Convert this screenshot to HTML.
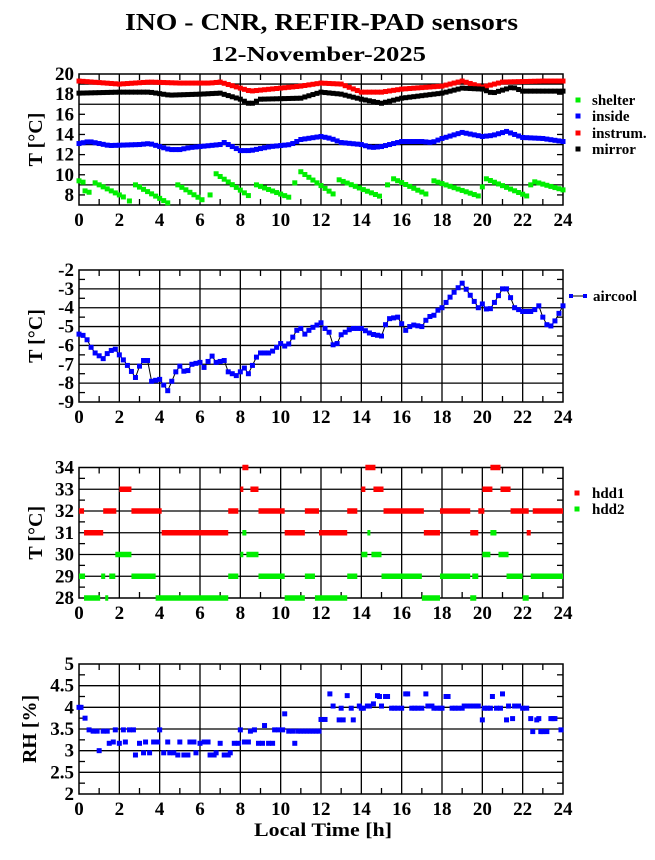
<!DOCTYPE html>
<html><head><meta charset="utf-8"><style>
html,body{margin:0;padding:0;background:#fff;}
svg{display:block;font-family:"Liberation Serif",serif;font-weight:bold;}
</style></head><body>
<svg id="s" width="655" height="860" viewBox="0 0 655 860" xmlns="http://www.w3.org/2000/svg">
<rect width="655" height="860" fill="#fff"/>
<text x="125" y="30" font-size="24" textLength="393" lengthAdjust="spacingAndGlyphs">INO - CNR, REFIR-PAD sensors</text>
<text x="211" y="61" font-size="21" textLength="215" lengthAdjust="spacingAndGlyphs">12-November-2025</text>
<text x="254" y="836" font-size="19" textLength="138" lengthAdjust="spacingAndGlyphs">Local Time [h]</text>
</svg>
<script>
var S=document.getElementById('s'),o='';
var X0=79,X1=563;function X(h){return X0+h*(X1-X0)/24;}
function panel(top,bot,vmax,vmin,major,minor,labels,ylab,ylx){
 var Y=function(v){return top+(vmax-v)*(bot-top)/(vmax-vmin);};
 for(var h=2;h<24;h+=2)o+='<line x1="'+X(h)+'" y1="'+top+'" x2="'+X(h)+'" y2="'+bot+'" stroke="#000" stroke-width="1.3"/>';
 for(var v=vmin+major;v<vmax-1e-6;v+=major)o+='<line x1="'+X0+'" y1="'+Y(v)+'" x2="'+X1+'" y2="'+Y(v)+'" stroke="#000" stroke-width="1.3"/>';
 for(var h=1;h<24;h+=2){o+='<line x1="'+X(h)+'" y1="'+top+'" x2="'+X(h)+'" y2="'+(top+6)+'" stroke="#000" stroke-width="1.3"/><line x1="'+X(h)+'" y1="'+bot+'" x2="'+X(h)+'" y2="'+(bot-6)+'" stroke="#000" stroke-width="1.3"/>';}
 for(var v=vmin+minor;v<vmax;v+=major){o+='<line x1="'+X0+'" y1="'+Y(v)+'" x2="'+(X0+6)+'" y2="'+Y(v)+'" stroke="#000" stroke-width="1.3"/><line x1="'+X1+'" y1="'+Y(v)+'" x2="'+(X1-6)+'" y2="'+Y(v)+'" stroke="#000" stroke-width="1.3"/>';}
 o+='<rect x="'+X0+'" y="'+top+'" width="'+(X1-X0)+'" height="'+(bot-top)+'" fill="none" stroke="#000" stroke-width="1.5"/>';
 for(var h=0;h<=24;h+=2)o+='<text x="'+X(h)+'" y="'+(bot+21)+'" font-size="19" text-anchor="middle">'+h+'</text>';
 for(var i=0;i<labels.length;i++){var v=labels[i];o+='<text x="74" y="'+(Y(v)+6)+'" font-size="19" text-anchor="end">'+v+'</text>';}
 var cy=(top+bot)/2;o+='<text x="'+ylx+'" y="'+cy+'" font-size="20" text-anchor="middle" transform="rotate(-90 '+ylx+' '+cy+')">'+ylab+'</text>';
 return Y;
}
function interp(k,h){for(var i=0;i<k.length-1;i++){if(h>=k[i][0]&&h<=k[i+1][0]){var t=(h-k[i][0])/(k[i+1][0]-k[i][0]);return k[i][1]+t*(k[i+1][1]-k[i][1]);}}return k[k.length-1][1];}
function sq(x,y,c,s){s=s||4;o+='<rect x="'+(x-s/2)+'" y="'+(y-s/2)+'" width="'+s+'" height="'+s+'" fill="'+c+'"/>';}
function series(Y,k,c,step){for(var h=0;h<=24.001;h+=step)sq(X(h),Y(interp(k,h)),c,5);}
var Y1=panel(74,205,20,7,2,1,[20,18,16,14,12,10,8],'T [°C]',42);
series(Y1,[[0,19.3],[2,19.0],[3.5,19.2],[5,19.1],[6.5,19.1],[7,19.2],[8,18.6],[8.5,18.3],[10,18.6],[11,18.8],[12,19.1],[13,19.0],[14,18.2],[15,18.2],[16,18.5],[18,18.8],[19,19.3],[20,18.7],[21,19.2],[23,19.3],[24,19.3]],'#f00',0.2);
series(Y1,[[0,18.1],[2,18.2],[3.5,18.2],[4.5,17.9],[6,18.0],[7,18.1],[8,17.5],[8.5,17.0],[9,17.5],[11,17.6],[12,18.2],[13,18.0],[14,17.5],[15,17.1],[16,17.6],[18,18.1],[19,18.6],[20,18.5],[20.5,18.1],[21.5,18.7],[22,18.3],[24,18.3]],'#000',0.2);
series(Y1,[[0,13.1],[0.5,13.3],[1.5,12.9],[3,13.0],[3.5,13.1],[4.5,12.5],[5,12.5],[5.5,12.7],[7,13.0],[7.2,13.2],[8,12.4],[8.5,12.4],[9.5,12.8],[10.5,13.0],[11,13.5],[12,13.8],[12.5,13.6],[13,13.2],[14,13.0],[14.5,12.7],[15,12.8],[16,13.3],[17,13.3],[17.5,13.2],[18,13.6],[19,14.2],[19.5,14.0],[20,13.8],[20.5,13.9],[21.2,14.3],[22,13.7],[23,13.6],[24,13.3]],'#00f',0.2);
var saw=[[0,0.3,9.4,9.2],[0.3,0.6,8.4,8.2],[0.8,2.3,9.2,7.7],[2.5,2.5,7.4,7.4],[2.8,4.5,9.0,7.1],[4.9,6.2,9.0,7.4],[6.5,6.5,8.0,8.0],[6.8,8.5,10.1,7.8],[8.8,10.5,9.0,7.7],[10.7,10.7,9.2,9.2],[11,12.6,10.3,8.1],[12.9,15.0,9.5,7.8],[15.3,15.3,9.0,9.0],[15.6,17.3,9.6,8.0],[17.6,19.8,9.4,7.9],[20,20,8.8,8.8],[20.2,22.2,9.6,7.9],[22.4,22.4,9.0,9.0],[22.6,24,9.3,8.5]];
saw.forEach(function(s){if(s[0]==s[1]){sq(X(s[0]),Y1(s[2]),'#0e0',5);return;}for(var h=s[0];h<=s[1]+1e-6;h+=0.2){sq(X(h),Y1(s[2]+(s[3]-s[2])*(h-s[0])/(s[1]-s[0])),'#0e0',5);}});
[['shelter','#0e0',100],['inside','#00f',116],['instrum.','#f00',133],['mirror','#000',149]].forEach(function(l){sq(578,l[2],l[1],5);o+='<text x="592" y="'+(l[2]+5)+'" font-size="15">'+l[0]+'</text>';});
var Y2=panel(270,402,-2,-9,1,0.5,[-2,-3,-4,-5,-6,-7,-8,-9],'T [°C]',42);
var ac=[[0,-5.4],[0.3,-5.5],[0.6,-6.1],[0.8,-6.4],[1.2,-6.7],[1.5,-6.3],[1.8,-6.2],[2,-6.5],[2.3,-6.9],[2.8,-7.7],[3.1,-6.8],[3.4,-6.8],[3.6,-7.9],[4,-7.8],[4.4,-8.4],[4.8,-7.4],[5,-7.1],[5.3,-7.5],[5.6,-7.0],[6,-6.9],[6.3,-7.3],[6.5,-6.4],[6.8,-6.9],[7.2,-6.8],[7.4,-7.4],[7.8,-7.6],[8.3,-7.1],[8.4,-7.5],[8.9,-6.4],[9.5,-6.4],[10,-5.9],[10.3,-6.1],[10.8,-5.2],[11,-5.1],[11.2,-5.4],[11.5,-5.1],[12,-4.8],[12.2,-5.1],[12.4,-5.3],[12.7,-6.3],[12.9,-5.5],[13.5,-5.1],[14,-5.1],[14.5,-5.4],[15,-5.5],[15.3,-4.6],[15.8,-4.5],[16.2,-5.2],[16.5,-4.9],[17,-5.0],[17.3,-4.5],[17.6,-4.4],[17.7,-4.2],[18,-4.0],[18.5,-3.3],[19,-2.7],[19.5,-3.5],[19.8,-4.0],[20,-3.8],[20.3,-4.2],[20.5,-3.9],[21,-3.0],[21.2,-3.0],[21.5,-3.7],[21.6,-4.0],[22,-4.2],[22.5,-4.2],[22.8,-3.9],[23,-4.5],[23.3,-5.1],[23.6,-4.7],[24,-3.9]];
var pts=[];for(var h=0;h<=24.001;h+=0.2)pts.push(X(h).toFixed(1)+','+Y2(interp(ac,h)).toFixed(1));
o+='<polyline points="'+pts.join(' ')+'" fill="none" stroke="#000" stroke-width="1"/>';
for(var h=0;h<=24.001;h+=0.2)sq(X(h),Y2(interp(ac,h)),'#00f',5);
o+='<line x1="571" y1="296" x2="585" y2="296" stroke="#000"/>';sq(571,296,'#00f');sq(585,296,'#00f');o+='<text x="593" y="301" font-size="15">aircool</text>';
var Y3=panel(467.5,598,34,28,1,0.5,[34,33,32,31,30,29,28],'T [°C]',42);
function segs(c,d){for(var v in d)d[v].forEach(function(s){o+='<rect x="'+X(s[0])+'" y="'+(Y3(+v)-2.75)+'" width="'+Math.max(3,X(s[1])-X(s[0]))+'" height="5.5" fill="'+c+'"/>';});}
segs('#f00',{32:[[0,0.25],[1.2,1.85],[2.6,4.1],[7.4,7.9],[8.9,10.2],[11.2,11.9],[13.3,13.8],[15.1,17.1],[17.9,19.4],[19.8,20.1],[21.4,22.3],[22.5,24]],31:[[0.25,1.2],[4.1,7.4],[10.2,11.2],[11.9,13.3],[17.1,17.9],[19.4,19.8],[22.2,22.4]],33:[[2,2.6],[8,8.1],[8.5,8.9],[14,14.2],[14.6,15.1],[20,20.5],[20.9,21.4]],34:[[8.1,8.4],[14.2,14.7],[20.4,20.9]]});
segs('#0e0',{29:[[0,0.3],[1.1,1.3],[1.5,1.8],[2.6,3.8],[7.4,7.9],[8.9,10.2],[11.2,11.7],[13.3,13.8],[15,17],[17.9,19.4],[19.5,19.8],[21.2,22],[22.4,24]],28:[[0.25,1.05],[1.3,1.45],[3.8,7.4],[10.2,11.2],[11.7,13.3],[17,17.9],[19.4,19.7],[22,22.3]],30:[[1.8,2.6],[8,8.1],[8.3,8.9],[14,14.3],[14.5,15],[20,20.4],[20.8,21.3]],31:[[8.1,8.3],[14.3,14.4],[20.4,20.7]]});
sq(577,493,'#f00',5);o+='<text x="592" y="498" font-size="15">hdd1</text>';sq(577,509,'#0e0',5);o+='<text x="592" y="514" font-size="15">hdd2</text>';
var Y4=panel(664,794,5,2,0.5,0.25,[5,4.5,4,3.5,3,2.5,2],'RH [%]',36);
var rh=[[0,4.0],[0.1,4.0],[0.3,3.75],[0.5,3.48],[0.7,3.45],[0.9,3.45],[1,3.0],[1.2,3.45],[1.4,3.45],[1.5,3.17],[1.7,3.2],[1.8,3.48],[2,3.17],[2.2,3.48],[2.3,3.2],[2.5,3.48],[2.7,3.48],[2.8,2.9],[3,3.17],[3.2,2.95],[3.3,3.2],[3.5,2.95],[3.7,3.2],[3.9,3.2],[4,3.48],[4.2,2.95],[4.4,3.2],[4.5,2.95],[4.7,2.95],[4.9,2.9],[5,3.2],[5.2,2.9],[5.4,2.9],[5.5,3.2],[5.7,3.2],[5.8,2.95],[6,3.17],[6.2,3.2],[6.4,3.2],[6.5,2.9],[6.7,2.9],[6.8,2.95],[7,3.17],[7.2,2.9],[7.4,2.9],[7.5,2.95],[7.7,3.17],[7.9,3.17],[8,3.48],[8.2,3.2],[8.4,3.2],[8.5,3.45],[8.7,3.48],[8.9,3.17],[9.1,3.17],[9.2,3.58],[9.4,3.17],[9.6,3.17],[9.7,3.48],[9.9,3.48],[10.1,3.48],[10.2,3.85],[10.4,3.45],[10.6,3.45],[10.7,3.17]];
for(var h=10.85;h<12;h+=0.15)rh.push([h,3.45]);
rh=rh.concat([[12,3.72],[12.2,3.72],[12.44,4.31],[12.6,4.03],[12.9,3.71],[13,3.98],[13.1,3.71],[13.3,4.27],[13.5,3.98],[13.6,3.71],[13.9,4.03],[14,3.98],[14.1,3.98],[14.3,4.03],[14.4,4.03],[14.6,4.08],[14.8,4.27],[14.9,4.25],[15,4.03],[15.2,4.25],[15.3,4.25],[15.5,3.98],[15.65,3.98],[15.8,3.98],[16,3.98],[16.2,4.31],[16.3,4.31],[16.5,3.98],[16.65,3.98],[16.8,3.98],[17,3.98],[17.2,4.31],[17.3,4.03],[17.5,4.03],[17.6,3.98],[17.75,3.98],[17.9,3.98],[18,3.98],[18.2,4.25],[18.3,4.25],[18.5,3.98],[18.65,3.98],[18.8,3.98],[19,3.98],[19.1,4.03],[19.25,4.03],[19.4,4.03],[19.55,4.03],[19.7,4.03],[19.8,4.03],[20,3.71],[20.1,3.98],[20.25,3.98],[20.4,3.98],[20.5,4.25],[20.7,3.98],[20.9,3.98],[21,4.31],[21.2,3.71],[21.3,4.03],[21.5,3.74],[21.6,4.03],[21.8,4.03],[22,3.98],[22.2,3.98],[22.4,3.74],[22.5,3.44],[22.7,3.71],[22.8,3.74],[22.9,3.44],[23,3.44],[23.2,3.44],[23.4,3.74],[23.5,3.74],[23.6,3.74],[23.9,3.48]]);
rh.forEach(function(p){sq(X(p[0]),Y4(p[1]),'#00f',5);});
S.insertAdjacentHTML('beforeend',o);
</script>
</body></html>
